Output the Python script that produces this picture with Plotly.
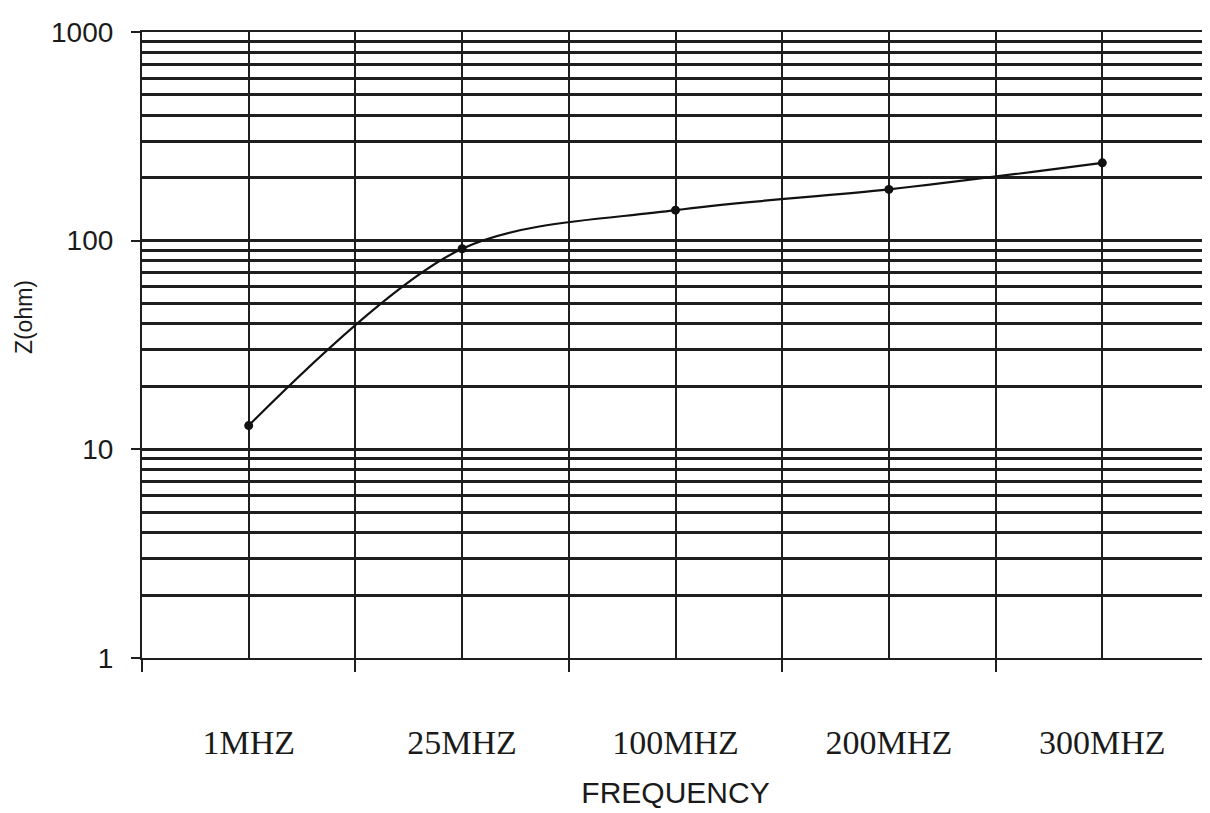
import plotly.graph_objects as go

categories = ["1MHZ", "25MHZ", "100MHZ", "200MHZ", "300MHZ"]
impedance = [13.0, 91.5, 140, 176, 236]
y_tick_vals = [1, 10, 100, 1000]
y_tick_text = ["1", "10", "100", "1000"]
y_minor_vals = [m * d for d in (1, 10, 100) for m in range(2, 10)]

x_pos = list(range(len(categories)))
x_bounds = [i - 0.5 for i in range(len(categories) + 1)]

fig = go.Figure()
fig.add_trace(go.Scatter(
    x=x_pos, y=impedance, mode="lines+markers",
    line=dict(color="#111", width=2.2, shape="spline", smoothing=0.9),
    marker=dict(color="#111", size=9),
    showlegend=False,
))

grid_col = "#1e1e1e"
fig.update_layout(
    width=1210, height=813,
    margin=dict(l=134, r=9, t=19, b=163),
    paper_bgcolor="white", plot_bgcolor="white",
    xaxis=dict(
        range=[-0.5, 4.5], tickvals=x_pos, ticktext=categories,
        showgrid=True, gridcolor=grid_col, gridwidth=2.2,
        ticks="", ticklabelstandoff=53,
        tickfont=dict(family="Liberation Serif", size=34, color="#1a1a1a"),
        minor=dict(tickvals=x_bounds, showgrid=True, gridcolor=grid_col, gridwidth=2.2,
                   ticks="outside", ticklen=12, tickcolor=grid_col, tickwidth=2),
        showline=True, mirror=True, linecolor=grid_col, linewidth=2.4, zeroline=False,
        title=dict(text="FREQUENCY", standoff=22,
                   font=dict(family="Liberation Sans", size=30, color="#1a1a1a")),
    ),
    yaxis=dict(
        type="log", range=[0, 3], tickvals=y_tick_vals, ticktext=y_tick_text,
        showgrid=True, gridcolor=grid_col, gridwidth=2.8,
        ticks="outside", ticklen=9, tickcolor=grid_col, tickwidth=2,
        ticklabelstandoff=12,
        tickfont=dict(family="Liberation Sans", size=28, color="#1a1a1a"),
        minor=dict(tickvals=y_minor_vals, showgrid=True, gridcolor=grid_col, gridwidth=2.8,
                   ticks=""),
        showline=True, linecolor=grid_col, linewidth=2.2, zeroline=False,
    ),
    annotations=[dict(
        text="Z(ohm)", textangle=-90, xref="paper", yref="paper",
        x=-0.11, y=0.544, xanchor="center", yanchor="middle", showarrow=False,
        font=dict(family="Liberation Sans", size=23, color="#1a1a1a"),
    )],
)

fig.write_html("out.html")
